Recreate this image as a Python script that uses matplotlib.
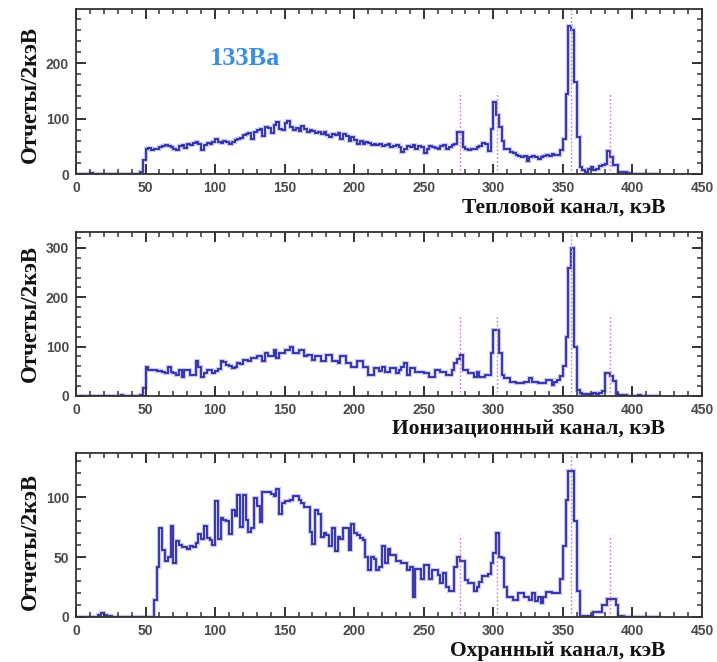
import matplotlib
matplotlib.use("Agg")
import matplotlib.pyplot as plt
from matplotlib.ticker import MultipleLocator
import numpy as np

# 2 keV bins, 0..420 keV
edges = np.arange(0, 422, 2)

thermal = [
    0, 0, 0, 0, 0, 2, 1, 0, 0, 0,
    1, 0, 0, 1, 0, 0, 0, 0, 0, 1,
    0, 0, 1, 4, 25, 45, 47, 44, 46, 45,
    48, 50, 52, 50, 49, 46, 44, 50, 52, 47,
    55, 52, 56, 58, 54, 44, 52, 56, 55, 58,
    64, 58, 56, 60, 57, 55, 57, 61, 63, 65,
    70, 72, 74, 64, 76, 80, 82, 68, 85, 83,
    74, 88, 94, 82, 80, 92, 96, 84, 80, 83,
    78, 86, 82, 76, 80, 78, 74, 76, 72, 76,
    70, 66, 72, 70, 74, 64, 72, 68, 60, 66,
    62, 55, 60, 54, 58, 56, 52, 55, 52, 54,
    50, 52, 55, 48, 50, 52, 48, 40, 46, 50,
    48, 52, 46, 50, 48, 38, 46, 50, 48, 47,
    46, 50, 52, 46, 48, 52, 55, 76, 75, 48,
    46, 44, 46, 45, 48, 50, 56, 54, 42, 82,
    130, 106, 85, 60, 46, 45, 40, 38, 35, 33,
    30, 32, 24, 30, 32, 30, 28, 30, 32, 34,
    32, 36, 34, 35, 43, 64, 145, 267, 259, 166,
    67, 13, 8, 4, 10, 12, 8, 10, 14, 16,
    18, 42, 31, 16, 16, 4, 4, 3, 2, 1,
    1, 1, 0, 1, 0, 0, 1, 0, 0, 0,
]

ionization = [
    0, 0, 0, 0, 0, 0, 0, 0, 0, 0,
    0, 0, 0, 0, 0, 0, 1, 0, 0, 0,
    0, 0, 0, 2, 16, 59, 53, 53, 53, 50,
    50, 49, 46, 59, 49, 47, 43, 53, 39, 53,
    53, 43, 43, 70, 59, 39, 46, 53, 53, 46,
    50, 55, 70, 68, 63, 60, 56, 58, 66, 64,
    73, 73, 70, 76, 76, 80, 80, 70, 86, 80,
    80, 93, 76, 86, 86, 93, 93, 100, 86, 86,
    93, 93, 80, 83, 83, 73, 80, 80, 70, 70,
    83, 83, 70, 70, 66, 80, 80, 66, 66, 59,
    59, 70, 70, 59, 59, 43, 43, 56, 56, 50,
    59, 49, 49, 56, 56, 46, 52, 59, 66, 43,
    56, 56, 49, 49, 49, 46, 46, 39, 39, 53,
    53, 49, 49, 43, 43, 53, 66, 75, 83, 53,
    53, 46, 46, 39, 49, 39, 39, 43, 43, 87,
    134, 134, 87, 43, 36, 36, 29, 29, 26, 26,
    26, 29, 29, 36, 29, 29, 26, 26, 26, 32,
    32, 23, 29, 32, 40, 60, 120, 259, 300, 100,
    12, 5, 3, 3, 4, 3, 5, 4, 6, 9,
    46, 46, 40, 30, 3, 2, 1, 1, 0, 0,
    0, 0, 1, 0, 0, 0, 0, 0, 0, 0,
]

guard = [
    0, 0, 0, 0, 0, 0, 0, 0, 2, 3,
    2, 0, 1, 0, 0, 0, 0, 0, 0, 0,
    0, 0, 0, 0, 0, 0, 0, 0, 14, 42,
    74, 56, 47, 50, 76, 45, 63, 60, 58, 58,
    57, 59, 58, 62, 69, 65, 76, 66, 64, 60,
    97, 65, 83, 81, 80, 69, 89, 84, 102, 75,
    102, 81, 71, 74, 99, 93, 79, 104, 104, 104,
    103, 101, 107, 86, 95, 97, 97, 98, 101, 101,
    98, 95, 92, 92, 71, 61, 89, 86, 67, 70,
    68, 59, 74, 55, 67, 65, 74, 74, 56, 78,
    70, 68, 66, 64, 50, 39, 50, 48, 39, 42,
    59, 45, 57, 52, 52, 47, 47, 45, 45, 39,
    42, 17, 40, 40, 32, 43, 43, 32, 39, 39,
    35, 28, 37, 25, 22, 22, 42, 50, 47, 47,
    31, 28, 28, 22, 25, 29, 34, 34, 36, 45,
    53, 70, 50, 49, 25, 17, 17, 14, 14, 20,
    20, 17, 17, 14, 20, 13, 17, 12, 17, 21,
    21, 20, 20, 20, 32, 59, 98, 122, 122, 80,
    22, 0, 1, 1, 1, 1, 4, 4, 4, 10,
    10, 15, 15, 15, 10, 1, 1, 0, 0, 0,
    0, 0, 0, 0, 0, 0, 0, 0, 0, 0,
]

# Ba-133 gamma lines, keV
ba_lines = [276.4, 302.85, 356.0, 383.85]

panels = [
    (thermal, "Тепловой канал, кэВ", 297, 100, 20, 0.485),
    (ionization, "Ионизационный канал, кэВ", 333, 100, 20, 0.50),
    (guard, "Охранный канал, кэВ", 137, 50, 10, 0.457),
]
boxes = [
    [0.106, 0.737, 0.873, 0.249],
    [0.106, 0.402, 0.873, 0.248],
    [0.106, 0.068, 0.873, 0.248],
]

serif = "Liberation Serif"
fig = plt.figure(figsize=(7.17, 6.62), dpi=100)

for (counts, xlabel, ytop, ymaj, ymin, ylab_y), box in zip(panels, boxes):
    ax = fig.add_axes(box)
    # soft halo + core line for the histogram
    ax.stairs(counts, edges, color="#9c9ce6", lw=3.0, alpha=0.55)
    ax.stairs(counts, edges, color="#2c2ca8", lw=1.3)
    for e in ba_lines:
        top = 1.0 if e == 356.0 else 0.5
        ax.axvline(e, ymin=0, ymax=top, color="#d77ac8", ls=(0, (1.2, 1.6)), lw=1.0)

    ax.set_xlim(0, 450)
    ax.set_ylim(0, ytop)
    ax.xaxis.set_major_locator(MultipleLocator(50))
    ax.xaxis.set_minor_locator(MultipleLocator(10))
    ax.yaxis.set_major_locator(MultipleLocator(ymaj))
    ax.yaxis.set_minor_locator(MultipleLocator(ymin))
    ax.tick_params(which="both", direction="in", top=True, right=True, color="#333333")
    ax.tick_params(which="major", length=7, width=1.4, pad=5)
    ax.tick_params(which="minor", length=3.5, width=1.1)
    for lab in ax.get_xticklabels() + ax.get_yticklabels():
        lab.set_family("Liberation Sans")
        lab.set_fontweight("bold")
        lab.set_fontsize(10)
        lab.set_color("#4a4a4a")
    for sp in ax.spines.values():
        sp.set_linewidth(1.3)
        sp.set_color("#333333")

    ax.text(0.941, -0.205, xlabel, transform=ax.transAxes, ha="right", va="center",
            family=serif, fontweight="bold", fontsize=15.5, color="#111111")
    ax.text(-0.073, ylab_y, "Отчеты/2кэВ", transform=ax.transAxes, rotation=90,
            ha="center", va="center", family=serif, fontweight="bold",
            fontsize=16.5, color="#111111")

    if counts is thermal:
        ax.text(121.5, 209, "133Ba", ha="center", va="center", family=serif,
                fontweight="bold", fontsize=19, color="#3a8de0")

fig.savefig("out.png", dpi=100)
